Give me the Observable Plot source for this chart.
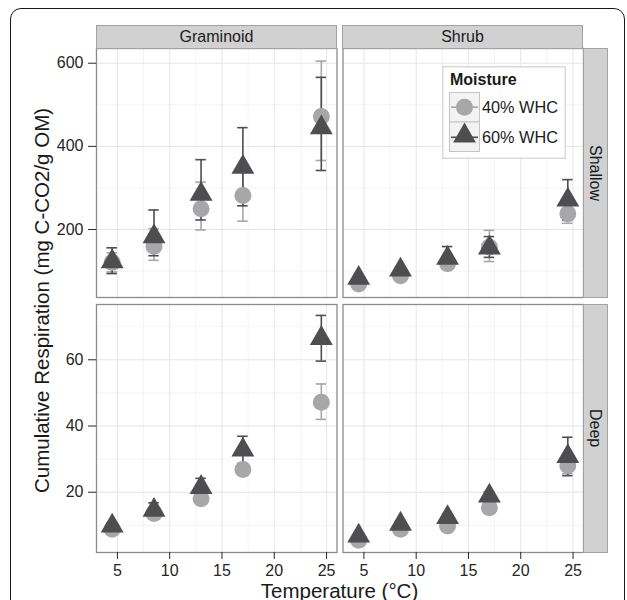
<!DOCTYPE html>
<html>
<head>
<meta charset="utf-8">
<script src="https://cdn.jsdelivr.net/npm/d3@7"></script>
<script src="https://cdn.jsdelivr.net/npm/@observablehq/plot@0.6"></script>
<style>
  body { margin: 0; background: #fff; }
  #wrap { position: relative; width: 627px; height: 600px; overflow: hidden; background: #fff;
          font-family: "Liberation Sans", Arial, Helvetica, sans-serif; color: #1a1a1a; }
  .abs { position: absolute; }
  .strip { position: absolute; background: #d1d1d2; border: 1px solid #a2a2a2; box-sizing: border-box;
           display: flex; align-items: center; justify-content: center; font-size: 16px; color: #1a1a1a; }
  .vstrip { writing-mode: vertical-rl; }
  svg { display: block; }
</style>
</head>
<body>
<div id="wrap">
  <div class="abs" style="left:10px;top:8px;width:615px;height:650px;border:1.6px solid #1a1a1a;border-radius:11px;box-sizing:border-box;"></div>
  <div id="row1" class="abs" style="left:0;top:0;"></div>
  <div id="row2" class="abs" style="left:0;top:300px;"></div>
</div>
<script>
// ---------------- data ----------------
const temperature = [4.5, 8.5, 13, 17, 24.5];
const vegetation = ["Graminoid", "Shrub"];
const depth = ["Shallow", "Deep"];
const moisture = ["40% WHC", "60% WHC"];
const legendTitle = "Moisture";
const xTitle = "Temperature (°C)";
const yTitle = "Cumulative Respiration (mg C-CO2/g OM)";

const xTicks = [5, 10, 15, 20, 25];
const xMinor = [7.5, 12.5, 17.5, 22.5];
const shallowTicks = [200, 400, 600];
const shallowMinor = [100, 300, 500];
const deepTicks = [20, 40, 60];
const deepMinor = [10, 30, 50, 70];

// Shallow / Graminoid
const shallowGram40   = [121, 160, 250, 282, 472];
const shallowGram40Lo = [98, 126, 199, 220, 366];
const shallowGram40Hi = [144, 202, 314, 344, 605];
const shallowGram60   = [123, 183, 285, 350, 445];
const shallowGram60Lo = [94, 137, 223, 257, 342];
const shallowGram60Hi = [156, 247, 368, 445, 566];
// Shallow / Shrub
const shallowShrub40   = [69, 89, 118, 158, 238];
const shallowShrub40Lo = [64, 83, 110, 123, 215];
const shallowShrub40Hi = [74, 95, 126, 198, 262];
const shallowShrub60   = [83, 103, 131, 156, 271];
const shallowShrub60Lo = [77, 96, 105, 133, 222];
const shallowShrub60Hi = [89, 110, 159, 183, 320];
// Deep / Graminoid
const deepGram40   = [8.8, 13.6, 18.0, 26.9, 47.2];
const deepGram40Lo = [8.0, 12.6, 16.8, 25.5, 42.0];
const deepGram40Hi = [9.6, 14.6, 19.2, 28.3, 52.7];
const deepGram60   = [9.8, 14.6, 21.5, 32.8, 66.5];
const deepGram60Lo = [8.9, 12.4, 18.8, 28.7, 59.6];
const deepGram60Hi = [10.7, 16.8, 24.2, 36.9, 73.4];
// Deep / Shrub
const deepShrub40   = [5.5, 8.8, 9.8, 15.3, 28.1];
const deepShrub40Lo = [5.0, 8.2, 9.0, 14.3, 25.6];
const deepShrub40Hi = [6.0, 9.4, 10.6, 16.3, 30.6];
const deepShrub60   = [6.8, 10.4, 12.4, 18.9, 30.8];
const deepShrub60Lo = [6.2, 9.6, 11.4, 17.7, 25.0];
const deepShrub60Hi = [7.4, 11.2, 13.4, 20.1, 36.6];

// ---------------- styling ----------------
const lightColor = "#a7a7a9";
const darkColor = "#4e4e50";
const font = '"Liberation Sans", Arial, Helvetica, sans-serif';

function series(veg, moist, mean, lo, hi) {
  return temperature.map((t, i) => ({veg, moisture: moist, t, mean: mean[i], lo: lo[i], hi: hi[i]}));
}

const shallow40 = [...series(vegetation[0], moisture[0], shallowGram40, shallowGram40Lo, shallowGram40Hi),
                   ...series(vegetation[1], moisture[0], shallowShrub40, shallowShrub40Lo, shallowShrub40Hi)];
const shallow60 = [...series(vegetation[0], moisture[1], shallowGram60, shallowGram60Lo, shallowGram60Hi),
                   ...series(vegetation[1], moisture[1], shallowShrub60, shallowShrub60Lo, shallowShrub60Hi)];
const deep40 = [...series(vegetation[0], moisture[0], deepGram40, deepGram40Lo, deepGram40Hi),
                ...series(vegetation[1], moisture[0], deepShrub40, deepShrub40Lo, deepShrub40Hi)];
const deep60 = [...series(vegetation[0], moisture[1], deepGram60, deepGram60Lo, deepGram60Hi),
                ...series(vegetation[1], moisture[1], deepShrub60, deepShrub60Lo, deepShrub60Hi)];

const capHalf = 0.5;
function errorBars(data, color) {
  const o = {fx: "veg", stroke: color, strokeWidth: 1.6};
  return [
    Plot.ruleX(data, {...o, x: "t", y1: "lo", y2: "hi"}),
    Plot.ruleY(data, {...o, y: "hi", x1: d => d.t - capHalf, x2: d => d.t + capHalf}),
    Plot.ruleY(data, {...o, y: "lo", x1: d => d.t - capHalf, x2: d => d.t + capHalf})
  ];
}

function row({d40, d60, yDomain, yTicks, yMinor, marginTop, marginBottom, xAxis}) {
  return Plot.plot({
    width: 627,
    height: 300,
    marginLeft: 96,
    marginRight: 44,
    marginTop,
    marginBottom,
    style: {background: "transparent", fontFamily: font, fontSize: "16px", overflow: "visible"},
    fx: {domain: vegetation, paddingInner: 0.0243, paddingOuter: 0, round: false, axis: null, label: null},
    x: {domain: [3, 26], label: null, axis: xAxis ? undefined : null},
    y: {domain: yDomain, label: null},
    marks: [
      Plot.gridX(xMinor, {stroke: "#f4f4f4", strokeOpacity: 1, strokeWidth: 1}),
      Plot.gridY(yMinor, {stroke: "#f4f4f4", strokeOpacity: 1, strokeWidth: 1}),
      Plot.gridX(xTicks, {stroke: "#e6e6e6", strokeOpacity: 1, strokeWidth: 1}),
      Plot.gridY(yTicks, {stroke: "#e6e6e6", strokeOpacity: 1, strokeWidth: 1}),
      ...errorBars(d40, lightColor),
      ...errorBars(d60, darkColor),
      Plot.dot(d40, {fx: "veg", x: "t", y: "mean", r: 8.5, symbol: "circle", fill: lightColor, stroke: "none"}),
      Plot.dot(d60, {fx: "veg", x: "t", y: "mean", r: 8.5, symbol: d3.symbolTriangle, fill: darkColor, stroke: "none"}),
      Plot.frame({stroke: "#8c8c8c", strokeWidth: 1.3}),
      Plot.axisY(yTicks, {anchor: "left", tickSize: 8, tickPadding: 5, fontSize: 16, color: "#262626", label: null}),
      xAxis ? Plot.axisX(xTicks, {anchor: "bottom", tickSize: 7, tickPadding: 5, fontSize: 16, color: "#262626", label: null}) : null
    ]
  });
}

document.getElementById("row1").appendChild(row({
  d40: shallow40, d60: shallow60, yDomain: [36.5, 635.4], yTicks: shallowTicks, yMinor: shallowMinor,
  marginTop: 48, marginBottom: 3, xAxis: false
}));
document.getElementById("row2").appendChild(row({
  d40: deep40, d60: deep60, yDomain: [1.8, 76.7], yTicks: deepTicks, yMinor: deepMinor,
  marginTop: 4, marginBottom: 48, xAxis: true
}));

// ---------------- strips ----------------
const wrap = document.getElementById("wrap");
const topStrips = [[96, 241], [342, 241]];
vegetation.forEach((v, i) => {
  const s = document.createElement("div");
  s.className = "strip";
  s.style.left = topStrips[i][0] + "px";
  s.style.top = "25px";
  s.style.width = topStrips[i][1] + "px";
  s.style.height = "24px";
  s.textContent = v;
  wrap.appendChild(s);
});
const sideStrips = [[48, 249.5], [304, 248.5]];
depth.forEach((d, i) => {
  const s = document.createElement("div");
  s.className = "strip vstrip";
  s.style.left = "583px";
  s.style.top = sideStrips[i][0] + "px";
  s.style.width = "24.5px";
  s.style.height = sideStrips[i][1] + "px";
  s.textContent = d;
  wrap.appendChild(s);
});

// ---------------- titles + legend ----------------
const ns = "http://www.w3.org/2000/svg";
const over = document.createElementNS(ns, "svg");
over.setAttribute("width", 627);
over.setAttribute("height", 600);
over.setAttribute("style", "position:absolute;left:0;top:0;pointer-events:none;font-family:" + font.replace(/"/g, "'"));
over.innerHTML = `
  <text transform="translate(49,300.5) rotate(-90)" text-anchor="middle" font-size="20.5" fill="#1a1a1a"></text>
  <text x="339.5" y="597.5" text-anchor="middle" font-size="20.5" fill="#1a1a1a"></text>
  <g transform="translate(442,66)">
    <rect x="0.75" y="0.75" width="122.5" height="91.5" fill="#fff" stroke="#dadada" stroke-width="1.5"></rect>
    <text x="8" y="19" font-size="16" font-weight="bold" fill="#1a1a1a"></text>
    <rect x="7.5" y="26.5" width="30" height="29.5" fill="#f3f3f3" stroke="#c4c4c4" stroke-width="1"></rect>
    <rect x="7.5" y="56" width="30" height="29.5" fill="#f3f3f3" stroke="#c4c4c4" stroke-width="1"></rect>
    <line x1="9" x2="36" y1="41.2" y2="41.2" stroke="${lightColor}" stroke-width="1.6"></line>
    <circle cx="22.5" cy="41.2" r="8.5" fill="${lightColor}"></circle>
    <line x1="9" x2="36" y1="71.3" y2="71.3" stroke="${darkColor}" stroke-width="1.6"></line>
    <path transform="translate(22.5,69.8)" d="${d3.symbol(d3.symbolTriangle, Math.PI * 8.5 * 8.5)()}" fill="${darkColor}"></path>
    <text x="40" y="47.3" font-size="16.3" fill="#1a1a1a"></text>
    <text x="40" y="76.6" font-size="16.3" fill="#1a1a1a"></text>
  </g>`;
const texts = over.querySelectorAll("text");
texts[0].textContent = yTitle;
texts[1].textContent = xTitle;
texts[2].textContent = legendTitle;
texts[3].textContent = moisture[0];
texts[4].textContent = moisture[1];
wrap.appendChild(over);
</script>
</body>
</html>
